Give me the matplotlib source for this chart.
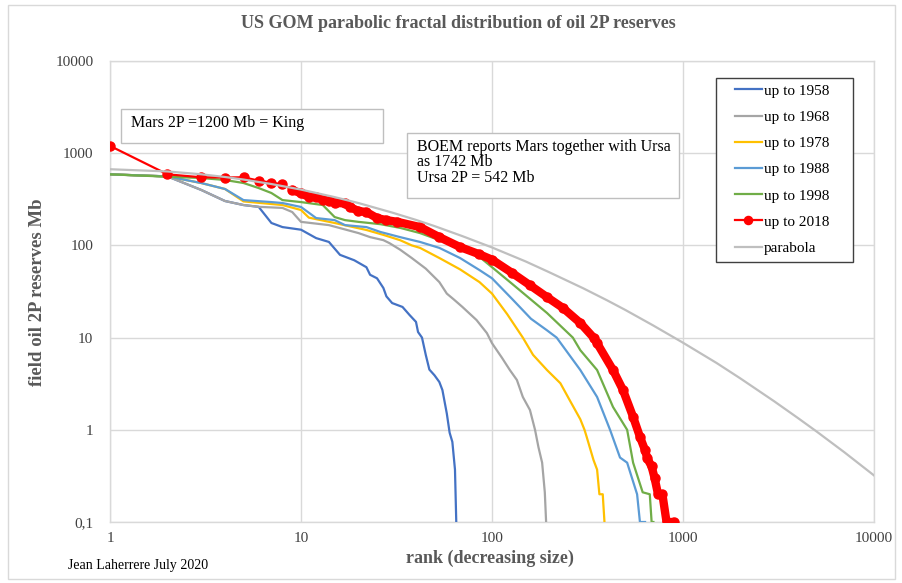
import matplotlib
matplotlib.use("agg")
import matplotlib.pyplot as plt
from matplotlib.patches import Rectangle

plt.rcParams["font.family"] = ["Liberation Serif", "DejaVu Serif"]

# ---- data (rank, oil 2P reserves in Mb) ----
rank_1958 = [1, 2, 3, 4, 5, 6, 7, 8, 10, 12, 14, 16, 19, 22, 23, 25, 27, 28,
             30, 34, 37, 40, 41, 43, 45, 47, 50, 53, 55, 58, 60, 62, 64, 65]
oil_1958 = [590, 560, 400, 303, 274, 262, 175, 158, 148, 120, 109, 79, 69,
            58, 48, 44, 34.5, 28, 23.7, 21.5, 17.6, 14.8, 11.5, 10, 6.5, 4.5,
            3.9, 3.3, 2.7, 1.5, 0.93, 0.74, 0.37, 0.1]

rank_1968 = [1, 2, 3, 4, 5, 6, 8, 9, 10, 14, 20, 23, 27, 29, 33, 38, 45, 53,
             58, 63, 70, 83, 94, 100, 113, 124, 135, 145, 158, 168, 175, 183,
             189, 192]
oil_1968 = [590, 560, 400, 303, 274, 262, 255, 230, 180, 166, 136, 123, 114,
            106, 90, 73, 56, 40, 30, 26, 21.5, 15.5, 11.2, 8.7, 6, 4.45, 3.47,
            2.27, 1.64, 1.0, 0.65, 0.44, 0.21, 0.1]

rank_1978 = [1, 2, 3, 4, 5, 8, 10, 11, 15, 22, 27, 33, 38, 42, 53, 68, 86,
             100, 120, 145, 164, 194, 228, 255, 290, 305, 313, 340, 355, 365,
             380, 388]
oil_1978 = [590, 560, 475, 409, 300, 274, 242, 200, 175, 147, 130, 114, 100,
            94, 73, 55, 40, 30, 18, 10, 6.5, 4.45, 3.2, 2.1, 1.3, 1.0, 0.84,
            0.47, 0.37, 0.2, 0.2, 0.1]

rank_1988 = [1, 2, 3, 4, 5, 7, 8, 10, 12, 15, 17, 22, 26, 33, 42, 53, 68, 86,
             100, 128, 160, 194, 218, 290, 355, 415, 468, 510, 575, 595, 633]
oil_1988 = [590, 560, 475, 409, 310, 295, 288, 261, 198, 188, 166, 158, 140,
            123, 109, 94, 73, 54, 44, 26, 16, 12, 10, 4.45, 2.27, 1.0, 0.5,
            0.44, 0.2, 0.1, 0.1]

rank_1998 = [1, 2, 3, 4, 5, 6, 7, 8, 10, 13, 15, 17, 20, 26, 33, 42, 53, 68,
             86, 100, 128, 194, 265, 290, 355, 430, 510, 548, 615, 670, 685,
             700]
oil_1998 = [590, 556, 538, 512, 475, 419, 370, 310, 295, 274, 203, 188, 180,
            170, 155, 136, 114, 94, 75, 58, 38, 18.5, 10, 7.3, 4.45, 1.77, 1.0,
            0.44, 0.21, 0.2, 0.1, 0.1]

rank_2018 = [1, 2, 3, 4, 5, 6, 7, 8, 9, 10, 11, 12, 13, 14, 15, 17, 18, 20,
             22, 25, 28, 32, 42, 53, 68, 86, 100, 128, 158, 194, 235, 290, 340,
             355, 430, 485, 548, 595, 633, 650, 685, 710, 740, 780, 820, 900]
oil_2018 = [1200, 590, 548, 545, 548, 504, 479, 460, 399, 367, 335, 335, 310,
            305, 290, 285, 261, 236, 230, 198, 188, 180, 158, 123, 96, 80, 70,
            50, 37, 27.5, 21, 14.4, 10, 8.7, 4.45, 2.7, 1.38, 0.84, 0.6, 0.49,
            0.4, 0.3, 0.2, 0.2, 0.1, 0.1]

rank_parabola = [1, 2, 3, 4, 5, 7, 10, 15, 20, 30, 40, 50, 70, 100, 150, 200,
                 300, 400, 500, 700, 1000, 1500, 2000, 3000, 4000, 5000, 7000,
                 10000]
oil_parabola = [670, 634, 591, 552, 518, 463, 403, 334, 288, 227, 189, 162,
                126, 95, 67, 51, 34.3, 25.4, 19.9, 13.5, 8.8, 5.3, 3.6, 2.04,
                1.34, 0.96, 0.57, 0.32]

legend_labels = ["up to 1958", "up to 1968", "up to 1978", "up to 1988",
                 "up to 1998", "up to 2018", "parabola"]

W, H = 903, 583


def fx(px):
    return px / W


def fy(py):
    return 1 - py / H


fig = plt.figure(figsize=(W / 100, H / 100), dpi=100)
fig.add_artist(Rectangle((fx(8), fy(579)), fx(887), 574 / H,
                         transform=fig.transFigure, fill=False,
                         ec="#d9d9d9", lw=1))

ax = fig.add_axes([fx(110), fy(522), fx(764), 461 / H])
ax.set_xscale("log")
ax.set_yscale("log")

series = [
    (rank_1958, oil_1958, "#4472c4"),
    (rank_1968, oil_1968, "#a5a5a5"),
    (rank_1978, oil_1978, "#ffc000"),
    (rank_1988, oil_1988, "#5b9bd5"),
    (rank_1998, oil_1998, "#70ad47"),
]
for (r, v, c), lab in zip(series, legend_labels):
    ax.plot(r, v, color=c, lw=1.6, label=lab, zorder=3)

# dense red markers merge into a band beyond rank ~9
ax.plot(rank_2018[8:], oil_2018[8:], color="#ff0000", lw=6,
        solid_capstyle="round", solid_joinstyle="round", zorder=4)
ax.plot(rank_2018, oil_2018, color="#ff0000", lw=1.6, marker="o", ms=6.5,
        label=legend_labels[5], zorder=5)
ax.plot(rank_parabola, oil_parabola, color="#bfbfbf", lw=1.6,
        label=legend_labels[6], zorder=6)

ax.set_xlim(1, 10000)
ax.set_ylim(0.1, 10000)
ax.set_xticks([1, 10, 100, 1000, 10000])
ax.set_xticklabels(["1", "10", "100", "1000", "10000"])
ax.set_yticks([0.1, 1, 10, 100, 1000, 10000])
ax.set_yticklabels(["0,1", "1", "10", "100", "1000", "10000"])
ax.minorticks_off()
ax.tick_params(length=0, labelsize=11, labelcolor="#404040")
ax.tick_params(axis="x", pad=7)
ax.tick_params(axis="y", pad=12)
ax.grid(True, color="#d9d9d9", lw=1)
ax.set_axisbelow(True)
for s in ax.spines.values():
    s.set_color("#d9d9d9")
    s.set_linewidth(1)

fig.text(fx(458), fy(23), "US GOM parabolic fractal distribution of oil 2P reserves",
         ha="center", va="center", fontsize=13, fontweight="bold",
         color="#595959")
fig.text(fx(490), fy(558), "rank (decreasing size)", ha="center",
         va="center", fontsize=13, fontweight="bold", color="#595959")
fig.text(fx(38), fy(292), "field oil 2P reserves Mb", ha="center",
         va="center", rotation=90, fontsize=13.5, fontweight="bold",
         color="#595959")
fig.text(fx(68), fy(565), "Jean Laherrere July 2020", ha="left",
         va="center", fontsize=10, color="#000000")

# annotation boxes
fig.add_artist(Rectangle((fx(121), fy(143)), fx(262), 34 / H,
                         transform=fig.transFigure, fc="white",
                         ec="#bfbfbf", lw=1, zorder=7))
fig.text(fx(131), fy(123), "Mars 2P =1200 Mb = King", ha="left",
         va="center", fontsize=11.5, zorder=8)
fig.add_artist(Rectangle((fx(407), fy(198)), fx(272), 65 / H,
                         transform=fig.transFigure, fc="white",
                         ec="#bfbfbf", lw=1, zorder=7))
fig.text(fx(417), fy(139), "BOEM reports Mars together with Ursa\n"
         "as 1742 Mb\nUrsa 2P = 542 Mb", ha="left", va="top",
         fontsize=11.5, linespacing=0.95, zorder=8)

# legend: frame drawn separately so the side padding can be wider
fig.add_artist(Rectangle((fx(716), fy(262)), fx(137), 184 / H,
                         transform=fig.transFigure, fc="white",
                         ec="#404040", lw=1, zorder=9))
handles, labels = ax.get_legend_handles_labels()
leg = fig.legend(handles, labels, loc="upper left",
                 bbox_to_anchor=(fx(735), fy(84)),
                 bbox_transform=fig.transFigure, borderaxespad=0,
                 borderpad=0, fontsize=11, frameon=False,
                 handlelength=1.75, handletextpad=0.15, labelspacing=0.82,
                 markerscale=0.9)
leg.set_zorder(10)

fig.savefig("out.png", dpi=100)
